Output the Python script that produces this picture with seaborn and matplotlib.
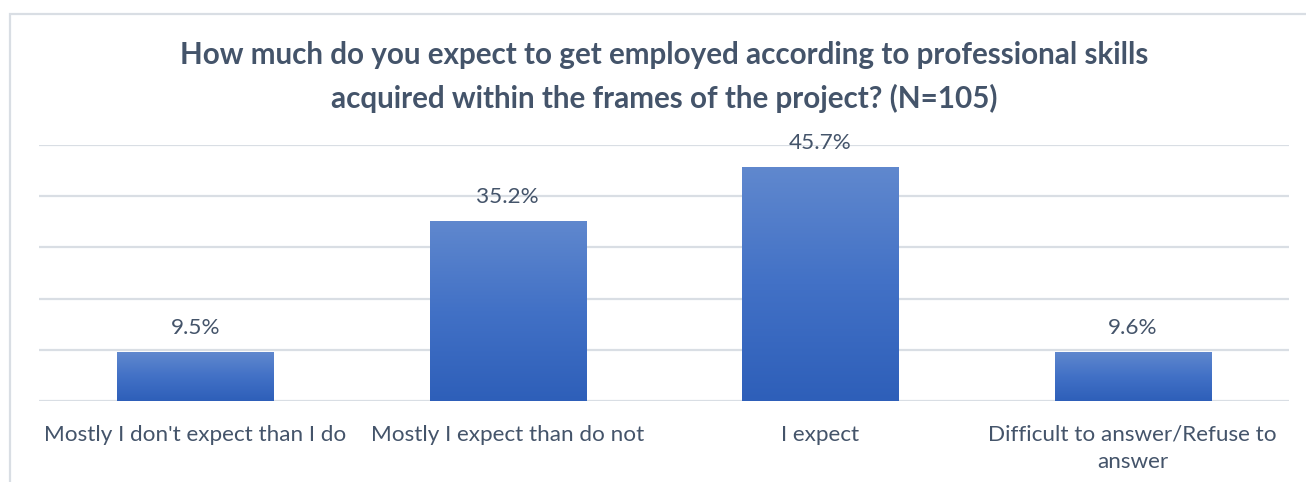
import numpy as np
import pandas as pd
import matplotlib
matplotlib.use("Agg")
import matplotlib.pyplot as plt
from matplotlib.colors import LinearSegmentedColormap
from matplotlib.patches import Rectangle
import seaborn as sns

categories = [
    "Mostly I don't expect than I do",
    "Mostly I expect than do not",
    "I expect",
    "Difficult to answer/Refuse to\nanswer",
]
values = [9.5, 35.2, 45.7, 9.6]
value_labels = ["9.5%", "35.2%", "45.7%", "9.6%"]
title = ("How much do you expect to get employed according to professional skills\n"
         "acquired within the frames of the project? (N=105)")

sns.set_theme(style="white")
plt.rcParams["font.family"] = ["Lato", "DejaVu Sans"]

text_color = "#44546A"
grid_color = "#D9DEE4"

fig = plt.figure(figsize=(13.06, 4.82), dpi=100)
W, H = 1306, 482
ax = fig.add_axes([39 / W, 81 / H, 1250 / W, 256 / H])

df = pd.DataFrame({"category": categories, "value": values})
sns.barplot(data=df, x="category", y="value", ax=ax, width=0.5,
            color="#4472C4", saturation=1, edgecolor="none")

ax.set_ylim(0, 50)
ax.set_xlim(-0.5, len(categories) - 0.5)
ax.set_yticks(np.arange(0, 51, 10))
ax.yaxis.grid(True, color=grid_color, linewidth=1.6)
ax.set_axisbelow(True)
ax.tick_params(axis="y", left=False, labelleft=False)
ax.tick_params(axis="x", bottom=False, colors=text_color, labelsize=16.2, pad=11)
for lbl in ax.get_xticklabels():
    lbl.set_color(text_color)
    lbl.set_linespacing(1.45)
ax.set_xlabel("")
ax.set_ylabel("")
for s in ax.spines.values():
    s.set_visible(False)

# vertical gradient fill inside each bar
cmap = LinearSegmentedColormap.from_list("bar", ["#2E5FB9", "#4271C6", "#6088CE"])
grad = np.linspace(0, 1, 256).reshape(-1, 1)
for patch in ax.patches:
    x0 = patch.get_x()
    w = patch.get_width()
    h = patch.get_height()
    im = ax.imshow(grad, cmap=cmap, origin="lower", aspect="auto",
                   extent=[x0, x0 + w, 0, h], zorder=patch.get_zorder())
    im.set_clip_path(patch)
    patch.set_facecolor("none")
ax.set_xlim(-0.5, len(categories) - 0.5)
ax.set_ylim(0, 50)

for i, (v, lab) in enumerate(zip(values, value_labels)):
    ax.annotate(lab, (i, v), xytext=(0, 10), textcoords="offset points",
                ha="center", va="bottom", fontsize=16.2, color=text_color)

fig.text(664 / W, 1 - 77 / H, title, ha="center", va="center",
         fontsize=21.3, fontweight="bold", color=text_color, linespacing=1.6)

# chart frame
fig.patches.append(Rectangle((10 / W, -0.1), 1.2, 1.1 - 14 / H,
                             transform=fig.transFigure, fill=False,
                             edgecolor=grid_color, linewidth=1.6))

fig.savefig("out.png", dpi=100, facecolor="white")
